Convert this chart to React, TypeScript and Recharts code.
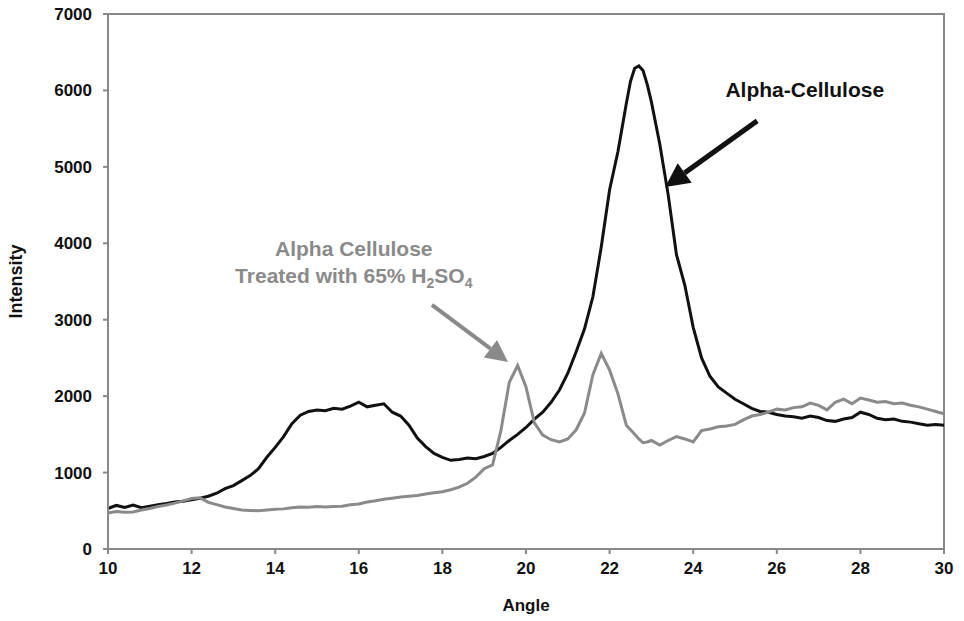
import {
  LineChart,
  Line,
  XAxis,
  YAxis,
  ReferenceArea,
  ReferenceLine,
  ReferenceDot,
  Label,
} from 'recharts';

// 2-theta angle, 0.2 deg steps (a few extra points round the main peak)
const angles = [
  10, 10.2, 10.4, 10.6, 10.8, 11, 11.2, 11.4, 11.6, 11.8,
  12, 12.2, 12.4, 12.6, 12.8, 13, 13.2, 13.4, 13.6, 13.8,
  14, 14.2, 14.4, 14.6, 14.8, 15, 15.2, 15.4, 15.6, 15.8,
  16, 16.2, 16.4, 16.6, 16.8, 17, 17.2, 17.4, 17.6, 17.8,
  18, 18.2, 18.4, 18.6, 18.8, 19, 19.2, 19.4, 19.6, 19.8,
  20, 20.2, 20.4, 20.6, 20.8, 21, 21.2, 21.4, 21.6, 21.8,
  22, 22.2, 22.4, 22.5, 22.6, 22.7, 22.8, 22.9, 23, 23.2, 23.4, 23.6, 23.8,
  24, 24.2, 24.4, 24.6, 24.8, 25, 25.2, 25.4, 25.6, 25.8,
  26, 26.2, 26.4, 26.6, 26.8, 27, 27.2, 27.4, 27.6, 27.8,
  28, 28.2, 28.4, 28.6, 28.8, 29, 29.2, 29.4, 29.6, 29.8,
  30,
];

const alphaCellulose = [
  530, 570, 545, 575, 540, 560, 580, 595, 615, 625,
  645, 665, 690, 730, 790, 830, 895, 960, 1050, 1200,
  1330, 1470, 1640, 1750, 1800, 1820, 1810, 1840, 1830, 1870,
  1920, 1860, 1880, 1900, 1790, 1740, 1620, 1450, 1340, 1250,
  1200, 1160, 1170, 1190, 1180, 1210, 1250, 1330, 1420, 1500,
  1590, 1700, 1790, 1920, 2080, 2300, 2580, 2880, 3300, 3950,
  4700, 5200, 5830, 6120, 6290, 6320, 6260, 6080, 5850, 5300, 4640, 3850, 3450,
  2900, 2500, 2260, 2120, 2040, 1960, 1900, 1840, 1800, 1790,
  1760, 1740, 1730, 1710, 1740, 1720, 1680, 1670, 1700, 1720,
  1790, 1760, 1710, 1690, 1700, 1670, 1660, 1640, 1620, 1630,
  1620,
];

const treatedCellulose = [
  470, 490, 480, 485, 510, 530, 555, 575, 600, 630,
  660, 670, 610, 580, 550, 530, 510, 505, 500, 510,
  520, 525, 540, 550, 545, 555, 550, 555, 560, 580,
  590, 615, 630, 650, 665, 680, 690, 700, 720, 735,
  750, 775, 810, 860, 940, 1050, 1100, 1550, 2180, 2400,
  2120, 1650, 1490, 1430, 1400, 1440, 1560, 1780, 2280, 2560,
  2340, 2030, 1620, 1560, 1500, 1440, 1390, 1400, 1420, 1360, 1420, 1470, 1440,
  1400, 1550, 1570, 1600, 1610, 1630, 1690, 1740, 1760, 1790,
  1830, 1820, 1850, 1860, 1910, 1880, 1820, 1920, 1960, 1900,
  1975, 1950, 1920, 1930, 1900, 1910, 1880, 1860, 1830, 1800,
  1770,
];

const xTicks = [10, 12, 14, 16, 18, 20, 22, 24, 26, 28, 30];
const yTicks = [0, 1000, 2000, 3000, 4000, 5000, 6000, 7000];

const data = angles.map((angle, i) => ({
  angle,
  alpha: alphaCellulose[i],
  treated: treatedCellulose[i],
}));

const FONT = '"Liberation Sans", Arial, sans-serif';
const AXIS = '#888';
const BLACK = '#111';
const GREY = '#8a8a8a';

const arrow = (color: string, width: number, head: number) => (props: any) => {
  const { x1, y1, x2, y2 } = props;
  const dx = x2 - x1;
  const dy = y2 - y1;
  const len = Math.hypot(dx, dy) || 1;
  const ux = dx / len;
  const uy = dy / len;
  const bx = x2 - ux * head;
  const by = y2 - uy * head;
  const hw = head * 0.5;
  return (
    <g>
      <line x1={x1} y1={y1} x2={bx} y2={by} stroke={color} strokeWidth={width} />
      <polygon
        points={`${x2},${y2} ${bx - uy * hw},${by + ux * hw} ${bx + uy * hw},${by - ux * hw}`}
        fill={color}
      />
    </g>
  );
};

export default function App() {
  return (
    <div style={{ position: 'absolute', left: 0, top: 0, width: 964, height: 621, background: '#fff' }}>
      <LineChart
        width={964}
        height={621}
        data={data}
        margin={{ top: 14, right: 20, bottom: 8, left: 8 }}
      >
        <ReferenceArea
          x1={10}
          x2={30}
          y1={0}
          y2={7000}
          fill="none"
          fillOpacity={0}
          stroke={AXIS}
          strokeWidth={2}
          ifOverflow="visible"
        />
        <XAxis
          dataKey="angle"
          type="number"
          domain={[10, 30]}
          ticks={xTicks}
          height={64}
          stroke={AXIS}
          strokeWidth={2}
          tickSize={5}
          tickMargin={8}
          tick={{ fill: BLACK, fontSize: 17, fontWeight: 'bold', fontFamily: FONT }}
        >
          <Label
            value="Angle"
            position="insideBottom"
            offset={2}
            style={{ fill: BLACK, fontSize: 17, fontWeight: 'bold', fontFamily: FONT }}
          />
        </XAxis>
        <YAxis
          type="number"
          domain={[0, 7000]}
          ticks={yTicks}
          width={100}
          stroke={AXIS}
          strokeWidth={2}
          tickSize={5}
          tickMargin={11}
          tick={{ fill: BLACK, fontSize: 17, fontWeight: 'bold', fontFamily: FONT }}
        >
          <Label
            value="Intensity"
            angle={-90}
            position="insideLeft"
            offset={8}
            style={{ fill: BLACK, fontSize: 18, fontWeight: 'bold', fontFamily: FONT, textAnchor: 'middle' }}
          />
        </YAxis>
        <Line
          type="linear"
          dataKey="alpha"
          stroke={BLACK}
          strokeWidth={3}
          dot={false}
          isAnimationActive={false}
        />
        <Line
          type="linear"
          dataKey="treated"
          stroke={GREY}
          strokeWidth={3}
          dot={false}
          isAnimationActive={false}
        />
        <ReferenceLine
          segment={[{ x: 25.53, y: 5602 }, { x: 23.33, y: 4738 }]}
          shape={arrow(BLACK, 5, 24)}
        />
        <ReferenceLine
          segment={[{ x: 17.75, y: 3194 }, { x: 19.57, y: 2448 }]}
          shape={arrow(GREY, 4, 22)}
        />
        <ReferenceDot
          x={26.67}
          y={5916}
          r={0}
          shape={(p: any) => (
            <text x={p.cx} y={p.cy} textAnchor="middle" fill={BLACK} fontSize={21} fontWeight="bold" fontFamily={FONT}>
              Alpha-Cellulose
            </text>
          )}
        />
        <ReferenceDot
          x={15.88}
          y={3835}
          r={0}
          shape={(p: any) => (
            <text x={p.cx} y={p.cy} textAnchor="middle" fill={GREY} fontSize={21} fontWeight="bold" fontFamily={FONT}>
              Alpha Cellulose
            </text>
          )}
        />
        <ReferenceDot
          x={15.88}
          y={3482}
          r={0}
          shape={(p: any) => (
            <text x={p.cx} y={p.cy} textAnchor="middle" fill={GREY} fontSize={21} fontWeight="bold" fontFamily={FONT}>
              Treated with 65% H
              <tspan fontSize={14} dy={5}>2</tspan>
              <tspan dy={-5}>SO</tspan>
              <tspan fontSize={14} dy={5}>4</tspan>
            </text>
          )}
        />
      </LineChart>
    </div>
  );
}
